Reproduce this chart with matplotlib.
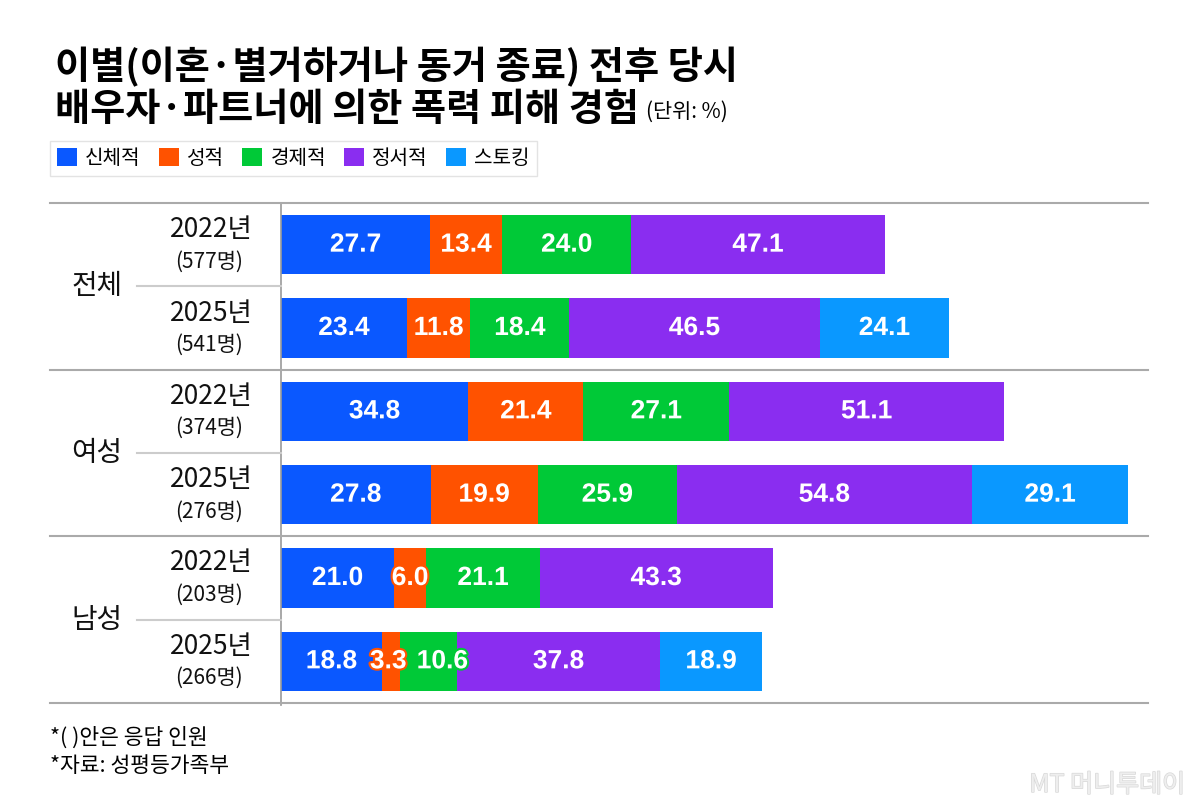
import matplotlib
matplotlib.use('Agg')
import matplotlib.pyplot as plt
import matplotlib.patheffects as pe
from matplotlib.patches import Patch
import numpy as np

plt.rcParams['font.family'] = ['Noto Sans CJK KR', 'DejaVu Sans']

# data
categories = ['신체적', '성적', '경제적', '정서적', '스토킹']
colors = ['#0A58FF', '#FF5200', '#00C937', '#8A2DF0', '#0A98FF']
groups = ['전체', '여성', '남성']
years = ['2022년', '2025년', '2022년', '2025년', '2022년', '2025년']
counts = ['(577명)', '(541명)', '(374명)', '(276명)', '(203명)', '(266명)']

physical = [27.7, 23.4, 34.8, 27.8, 21.0, 18.8]
sexual = [13.4, 11.8, 21.4, 19.9, 6.0, 3.3]
economic = [24.0, 18.4, 27.1, 25.9, 21.1, 10.6]
emotional = [47.1, 46.5, 51.1, 54.8, 43.3, 37.8]
stalking = [np.nan, 24.1, np.nan, 29.1, np.nan, 18.9]

series = [physical, sexual, economic, emotional, stalking]
narrow = ['Liberation Sans Narrow', 'Noto Sans CJK KR', 'DejaVu Sans']
# small label nudges (series index, row) -> x shift in data units
nudge = {(2, 5): 2.6, (1, 5): -0.5}

fig = plt.figure(figsize=(12, 8.1), dpi=100)
ax = fig.add_axes([281 / 1200, 1 - 703 / 810, 867 / 1200, 500 / 810])

y = np.arange(len(years))
left = np.zeros(len(years))
for k, (vals, col) in enumerate(zip(series, colors)):
    v = np.nan_to_num(np.array(vals, dtype=float))
    ax.barh(y, v, left=left, height=0.71, color=col, linewidth=0)
    for i in range(len(y)):
        if v[i] > 0:
            ax.text(left[i] + v[i] / 2 + nudge.get((k, i), 0), y[i], f'{v[i]:.1f}',
                    ha='center', va='center', color='white', fontsize=19, fontweight='bold',
                    family='Liberation Sans',
                    path_effects=[pe.withStroke(linewidth=3, foreground=col)])
    left += v

ax.set_xlim(0, 867 / 5.38)
ax.set_ylim(5.5, -0.5)
ax.axis('off')

tr = ax.get_yaxis_transform()
# vertical axis line
ax.plot([0, 0], [-0.5, 5.52], transform=tr, color='#999999', lw=1.2, clip_on=False)
# group separators
for yy in [-0.5, 1.5, 3.5, 5.5]:
    ax.plot([-231 / 867, 1], [yy, yy], transform=tr, color='#aaaaaa', lw=1.5, clip_on=False)
for yy in [0.5, 2.5, 4.5]:
    ax.plot([-144 / 867, 0], [yy, yy], transform=tr, color='#cccccc', lw=1.5, clip_on=False)

for i in range(len(years)):
    ax.text(-70 / 867, y[i] - 0.18, years[i], transform=tr, ha='center', va='center',
            fontsize=19, family=narrow, color='#111111')
    ax.text(-72 / 867, y[i] + 0.2, counts[i], transform=tr, ha='center', va='center',
            fontsize=15, family=narrow, color='#111111')
for g, name in enumerate(groups):
    ax.text(-184 / 867, 2 * g + 0.5, name, transform=tr, ha='center', va='center',
            fontsize=20, color='#111111')

# title
fig.text(55 / 1200, 1 - 67 / 810, '이별(이혼·별거하거나 동거 종료) 전후 당시', fontsize=27.5,
         fontweight='black', va='center', ha='left')
fig.text(55 / 1200, 1 - 110 / 810, '배우자·파트너에 의한 폭력 피해 경험', fontsize=27.5,
         fontweight='black', va='center', ha='left')
fig.text(646 / 1200, 1 - 112 / 810, '(단위: %)', fontsize=15, va='center', ha='left',
         family=narrow)

# legend
handles = [Patch(facecolor=c, edgecolor='none', label=l) for c, l in zip(colors, categories)]
leg = fig.legend(handles=handles, loc='upper left', bbox_to_anchor=(50 / 1200, 1 - 141 / 810),
                 ncol=5, frameon=True, fontsize=14.5, handlelength=1.0, handleheight=1.0,
                 handletextpad=0.4, columnspacing=0.9, borderpad=0.35, fancybox=False,
                 borderaxespad=0)
leg.get_frame().set_edgecolor('#dddddd')
leg.get_frame().set_linewidth(1)

# footer
fig.text(50 / 1200, 1 - 738 / 810, '*( )안은 응답 인원', fontsize=15.5, va='center', ha='left')
fig.text(50 / 1200, 1 - 766 / 810, '*자료: 성평등가족부', fontsize=15.5, va='center', ha='left')
fig.text(1185 / 1200, 1 - 785 / 810, 'MT 머니투데이', fontsize=18, va='center', ha='right',
         color='#eeeeee', path_effects=[pe.withStroke(linewidth=1, foreground='#d8d8d8')])

fig.savefig('out.png', dpi=100, facecolor='white')
